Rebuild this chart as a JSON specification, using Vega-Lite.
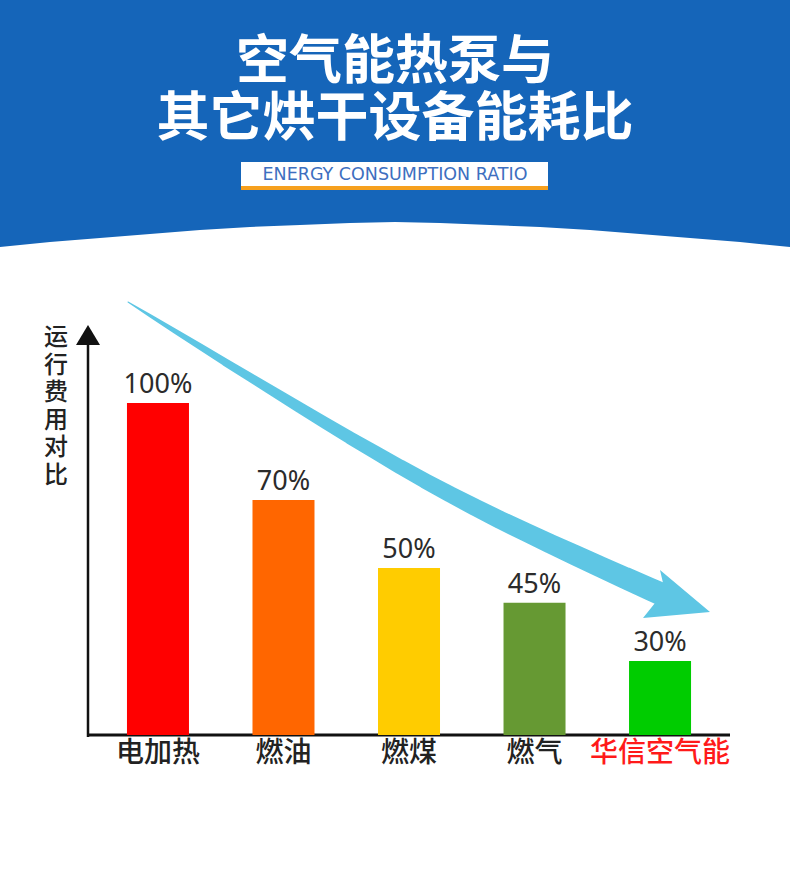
{
  "$schema": "https://vega.github.io/schema/vega-lite/v6.json",
  "width": 790,
  "height": 881,
  "autosize": {"type": "fit", "contains": "padding"},
  "padding": 0,
  "background": "white",
  "config": {"view": {"stroke": null}},
  "datasets": {
    "bars": [
      {"name": "电加热", "height": 100, "label": "100%"},
      {"name": "燃油", "height": 70.8, "label": "70%"},
      {"name": "燃煤", "height": 50.3, "label": "50%"},
      {"name": "燃气", "height": 39.8, "label": "45%"},
      {"name": "华信空气能", "height": 22.3, "label": "30%"}
    ],
    "header": [
      {"x": 0, "y": 247}, {"x": 50, "y": 242}, {"x": 100, "y": 238}, {"x": 150, "y": 234},
      {"x": 200, "y": 230}, {"x": 250, "y": 227}, {"x": 300, "y": 225}, {"x": 350, "y": 223},
      {"x": 395, "y": 222}, {"x": 440, "y": 223}, {"x": 490, "y": 225}, {"x": 540, "y": 227},
      {"x": 590, "y": 230}, {"x": 640, "y": 234}, {"x": 690, "y": 238}, {"x": 740, "y": 242},
      {"x": 790, "y": 247}
    ],
    "titles": [
      {"x": 395, "y": 63, "t": "空气能热泵与"},
      {"x": 395, "y": 120, "t": "其它烘干设备能耗比"}
    ],
    "shaft": [
      {"x": 128, "y": 302, "t": 0},
      {"x": 150, "y": 315.6, "t": 0.041},
      {"x": 175, "y": 331.1, "t": 0.088},
      {"x": 200, "y": 346.6, "t": 0.135},
      {"x": 225, "y": 362.1, "t": 0.182},
      {"x": 250, "y": 377.3, "t": 0.229},
      {"x": 275, "y": 392.6, "t": 0.276},
      {"x": 300, "y": 407.8, "t": 0.323},
      {"x": 325, "y": 422.8, "t": 0.37},
      {"x": 350, "y": 437.8, "t": 0.417},
      {"x": 375, "y": 452.3, "t": 0.464},
      {"x": 400, "y": 466.8, "t": 0.511},
      {"x": 425, "y": 480.8, "t": 0.558},
      {"x": 450, "y": 494.3, "t": 0.605},
      {"x": 475, "y": 507.3, "t": 0.652},
      {"x": 500, "y": 519.8, "t": 0.699},
      {"x": 525, "y": 531.8, "t": 0.746},
      {"x": 550, "y": 543.6, "t": 0.793},
      {"x": 575, "y": 555.1, "t": 0.84},
      {"x": 600, "y": 566.6, "t": 0.887},
      {"x": 625, "y": 577.9, "t": 0.934},
      {"x": 650, "y": 589.1, "t": 0.981},
      {"x": 660, "y": 593.6, "t": 1}
    ]
  },
  "resolve": {"scale": {"x": "independent", "y": "independent", "color": "independent", "size": "independent"}},
  "layer": [
    {
      "encoding": {
        "x": {"field": "x", "type": "quantitative", "scale": {"domain": [0, 790], "nice": false, "zero": false}, "axis": null},
        "y": {"field": "y", "type": "quantitative", "scale": {"domain": [0, 881], "reverse": true, "nice": false, "zero": false}, "axis": null}
      },
      "layer": [
        {
          "data": {"name": "header"},
          "mark": {"type": "area", "fill": "#1565B9", "opacity": 1},
          "encoding": {"y2": {"datum": 0}}
        },
        {
          "data": {"name": "titles"},
          "mark": {"type": "text", "font": "Noto Sans CJK SC", "fontWeight": "bold", "fontSize": 53, "fill": "white", "align": "center", "baseline": "middle"},
          "encoding": {"text": {"field": "t"}}
        },
        {
          "data": {"values": [{"x": 241, "x2": 548, "y": 162, "y2": 187}]},
          "mark": {"type": "rect", "fill": "white"},
          "encoding": {"x2": {"field": "x2"}, "y2": {"field": "y2"}}
        },
        {
          "data": {"values": [{"x": 241, "x2": 548, "y": 186, "y2": 190}]},
          "mark": {"type": "rect", "fill": "#F6A01E"},
          "encoding": {"x2": {"field": "x2"}, "y2": {"field": "y2"}}
        },
        {
          "data": {"values": [{"x": 395, "y": 175, "t": "ENERGY CONSUMPTION RATIO"}]},
          "mark": {"type": "text", "font": "DejaVu Sans", "fontSize": 17.5, "fill": "#3D6FC0", "align": "center", "baseline": "middle"},
          "encoding": {"text": {"field": "t"}}
        },
        {
          "data": {"name": "shaft"},
          "mark": {"type": "trail", "fill": "#5EC6E4", "opacity": 1},
          "encoding": {"size": {"field": "t", "type": "quantitative", "scale": {"type": "pow", "exponent": 0.7, "domain": [0, 1], "range": [1, 23]}, "legend": null}}
        },
        {
          "data": {"values": [{"x": 680, "y": 594}]},
          "mark": {"type": "point", "filled": true, "fill": "#5EC6E4", "opacity": 1, "strokeWidth": 0, "size": 6400,
                   "shape": "M0.75,0.45L-0.5,-0.6L-0.425,-0.275L-0.625,0.225L-0.925,0.6Z"},
          "encoding": {}
        },
        {
          "data": {"values": [{"x": 88, "y": 342, "y2": 737}]},
          "mark": {"type": "rule", "stroke": "#111111", "strokeWidth": 2.5},
          "encoding": {"y2": {"field": "y2"}}
        },
        {
          "data": {"values": [{"x": 87, "x2": 730, "y": 735}]},
          "mark": {"type": "rule", "stroke": "#111111", "strokeWidth": 3},
          "encoding": {"x2": {"field": "x2"}}
        },
        {
          "data": {"values": [{"x": 88, "y": 335}]},
          "mark": {"type": "point", "filled": true, "fill": "#111111", "opacity": 1, "strokeWidth": 0, "size": 400,
                   "shape": "M0,-1L1.2,1L-1.2,1Z"},
          "encoding": {}
        },
        {
          "data": {"values": [{"x": 56, "y": 326, "t": ["运", "行", "费", "用", "对", "比"]}]},
          "mark": {"type": "text", "font": "Noto Sans CJK SC", "fontWeight": 500, "fontSize": 24, "lineHeight": 27.5, "fill": "#222222", "align": "center", "baseline": "top"},
          "encoding": {"text": {"field": "t"}}
        }
      ]
    },
    {
      "data": {"name": "bars"},
      "encoding": {
        "x": {"field": "name", "type": "nominal", "sort": null,
              "scale": {"paddingInner": 0.506, "paddingOuter": 0.9, "align": 0.562}, "axis": null}
      },
      "layer": [
        {
          "mark": {"type": "bar"},
          "encoding": {
            "y": {"field": "height", "type": "quantitative", "scale": {"domain": [-43.976, 221.386], "nice": false, "zero": false}, "axis": null},
            "y2": {"datum": 0},
            "color": {"field": "name", "type": "nominal",
                      "scale": {"domain": ["电加热", "燃油", "燃煤", "燃气", "华信空气能"], "range": ["#FF0000", "#FF6600", "#FFCC00", "#669933", "#00CC00"]},
                      "legend": null}
          }
        },
        {
          "mark": {"type": "text", "font": "Noto Sans", "fontSize": 27, "fill": "#2B2B2B", "align": "center", "baseline": "alphabetic", "dy": -10},
          "encoding": {
            "y": {"field": "height", "type": "quantitative"},
            "text": {"field": "label"}
          }
        },
        {
          "mark": {"type": "text", "font": "Noto Sans CJK SC", "fontWeight": 500, "fontSize": 28, "align": "center", "baseline": "middle", "dy": 19},
          "encoding": {
            "y": {"datum": 0, "type": "quantitative"},
            "text": {"field": "name"},
            "color": {"condition": {"test": "datum.name === '华信空气能'", "value": "#FF1A1A"}, "value": "#222222"}
          }
        }
      ]
    }
  ]
}
